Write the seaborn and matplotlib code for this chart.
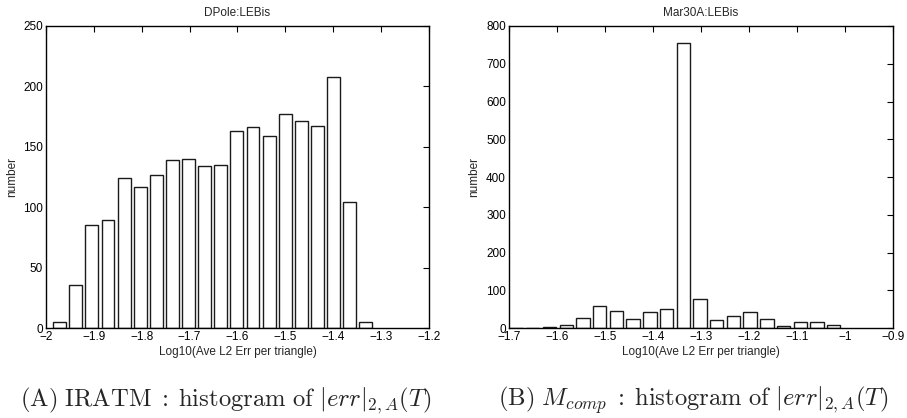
import numpy as np
import pandas as pd
import matplotlib
matplotlib.use("Agg")
import matplotlib.pyplot as plt
import seaborn as sns

# ---- data (20 bins each, Matlab hist style) ----
left_lo, left_hi = -1.9882, -1.3154
left_counts = [5, 36, 85, 89, 124, 117, 127, 139, 140, 134,
               135, 163, 166, 159, 177, 171, 167, 208, 104, 5]

right_lo, right_hi = -1.7021, -1.0055
right_counts = [1, 0, 3, 7, 26, 57, 45, 24, 43, 50,
                755, 77, 20, 31, 43, 24, 5, 17, 16, 7]

left_title = "DPole:LEBis"
right_title = "Mar30A:LEBis"
xlab = "Log10(Ave L2 Err per triangle)"
ylab = "number"
left_xticks = [-2, -1.9, -1.8, -1.7, -1.6, -1.5, -1.4, -1.3, -1.2]
left_yticks = [0, 50, 100, 150, 200, 250]
right_xticks = [-1.7, -1.6, -1.5, -1.4, -1.3, -1.2, -1.1, -1, -0.9]
right_yticks = [0, 100, 200, 300, 400, 500, 600, 700, 800]
cap_a = r"$\mathrm{(A)\ IRATM}\;\mathrm{:}\;\mathrm{histogram\ of\ }|err|_{2,A}(T)$"
cap_b = r"$\mathrm{(B)\ }M_{comp}\;\mathrm{:}\;\mathrm{histogram\ of\ }|err|_{2,A}(T)$"

sns.set_style("white")
plt.rcParams["font.family"] = ["Liberation Sans", "DejaVu Sans"]
plt.rcParams["mathtext.fontset"] = "cm"

fig = plt.figure(figsize=(9.07, 4.18), dpi=100)
ax1 = fig.add_axes([0.0507, 0.2153, 0.4223, 0.7225])
ax2 = fig.add_axes([0.5609, 0.2153, 0.4234, 0.7225])


def draw(ax, lo, hi, counts, title, xticks, yticks, xlim, ylim):
    edges = np.linspace(lo, hi, len(counts) + 1)
    df = pd.DataFrame({"x": (edges[:-1] + edges[1:]) / 2, "n": counts})
    sns.histplot(data=df, x="x", weights="n", bins=edges.tolist(), shrink=0.8,
                 color="white", edgecolor="#1a1a1a", linewidth=1.0,
                 alpha=1, ax=ax)
    ax.set_xlim(*xlim)
    ax.set_ylim(*ylim)
    ax.set_xticks(xticks)
    ax.set_xticklabels([("%g" % t).replace("-", "\u2212") for t in xticks])
    ax.set_yticks(yticks)
    ax.tick_params(direction="in", length=4, width=0.8, labelsize=8.5,
                   top=True, right=True, pad=2, colors="black")
    for s in ax.spines.values():
        s.set_visible(True)
        s.set_color("black")
        s.set_linewidth(1.0)
    ax.set_title(title, fontsize=8.5, pad=7)
    ax.set_xlabel(xlab, fontsize=8.5, labelpad=2)
    ax.set_ylabel(ylab, fontsize=8.5, labelpad=4)


draw(ax1, left_lo, left_hi, left_counts, left_title,
     left_xticks, left_yticks, (-2, -1.2), (0, 250))
draw(ax2, right_lo, right_hi, right_counts, right_title,
     right_xticks, right_yticks, (-1.7, -0.9), (0, 800))

# captions: size them so caption A is about 412 px wide, as in the reference
t_a = fig.text(0.249, 0.029, cap_a, fontsize=18, ha="center", va="baseline")
t_b = fig.text(0.7646, 0.029, cap_b, fontsize=18, ha="center", va="baseline")
r = fig.canvas.get_renderer()
w = t_a.get_window_extent(r).width
fs = 18 * 412 / w
t_a.set_fontsize(fs)
t_b.set_fontsize(fs)

fig.savefig("out.png", dpi=100)
